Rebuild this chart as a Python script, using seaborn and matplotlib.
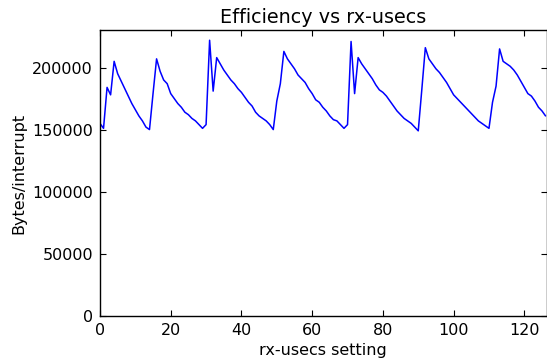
import numpy as np
import pandas as pd
import matplotlib
matplotlib.use("Agg")
import matplotlib.pyplot as plt
import seaborn as sns

# rx-usecs 设置 0..126
rx_usecs = list(range(127))

# 每次中断字节数
bytes_per_irq = [
    155000, 151000, 184000, 178000, 205000, 195000, 189000, 183000, 177000, 171000,
    166000, 161000, 157000, 152000, 150000, 179000, 207000, 197000, 190000, 187000,
    179000, 175000, 171000, 168000, 164000, 162000, 159000, 157000, 154000, 151000,
    154000, 222000, 181000, 208000, 203000, 198000, 194000, 190000, 187000, 183000,
    180000, 176000, 172000, 169000, 164000, 161000, 159000, 157000, 154000, 150000,
    173000, 187000, 213000, 207000, 203000, 199000, 194000, 191000, 188000, 183000,
    179000, 174000, 172000, 168000, 165000, 161000, 158000, 157000, 154000, 151000,
    154000, 221000, 179000, 208000, 203000, 199000, 195000, 191000, 186000, 182000,
    180000, 177000, 173000, 169000, 165000, 162000, 159000, 157000, 155000, 152000,
    149000, 182000, 216000, 207000, 203000, 199000, 196000, 192000, 188000, 183000,
    178000, 175000, 172000, 169000, 166000, 163000, 160000, 157000, 155000, 153000,
    151000, 172000, 185000, 215000, 205000, 203000, 201000, 198000, 194000, 189000,
    184000, 179000, 177000, 173000, 168000, 165000, 161000,
]

df = pd.DataFrame({"rx-usecs setting": rx_usecs, "Bytes/interrupt": bytes_per_irq})

sns.set_style("ticks", {"xtick.direction": "in", "ytick.direction": "in",
                        "text.color": "black", "axes.labelcolor": "black"})
plt.rcParams['font.family'] = ['DejaVu Sans']

fig = plt.figure(figsize=(5.47, 3.6), dpi=100)
ax = fig.add_axes([0.1828, 0.123, 0.8165, 0.7928])

sns.lineplot(data=df, x="rx-usecs setting", y="Bytes/interrupt", color="blue",
             linewidth=1.1, ax=ax)

ax.set_xlim(0, 126.3)
ax.set_ylim(0, 230000)
ax.set_xticks([0, 20, 40, 60, 80, 100, 120])
ax.set_yticks([0, 50000, 100000, 150000, 200000])
ax.tick_params(direction="in", top=True, right=True, length=4, width=0.8,
               labelsize=11.5, pad=5, colors="black")
for s in ax.spines.values():
    s.set_visible(True)
    s.set_color("black")
    s.set_linewidth(1)

ax.set_title("Efficiency vs rx-usecs", fontsize=13.8, pad=5, color="black")
ax.set_xlabel("rx-usecs setting", fontsize=11.5, color="black")
ax.set_ylabel("Bytes/interrupt", fontsize=11.5, labelpad=4.5, color="black")

fig.savefig("out.png", dpi=100)
